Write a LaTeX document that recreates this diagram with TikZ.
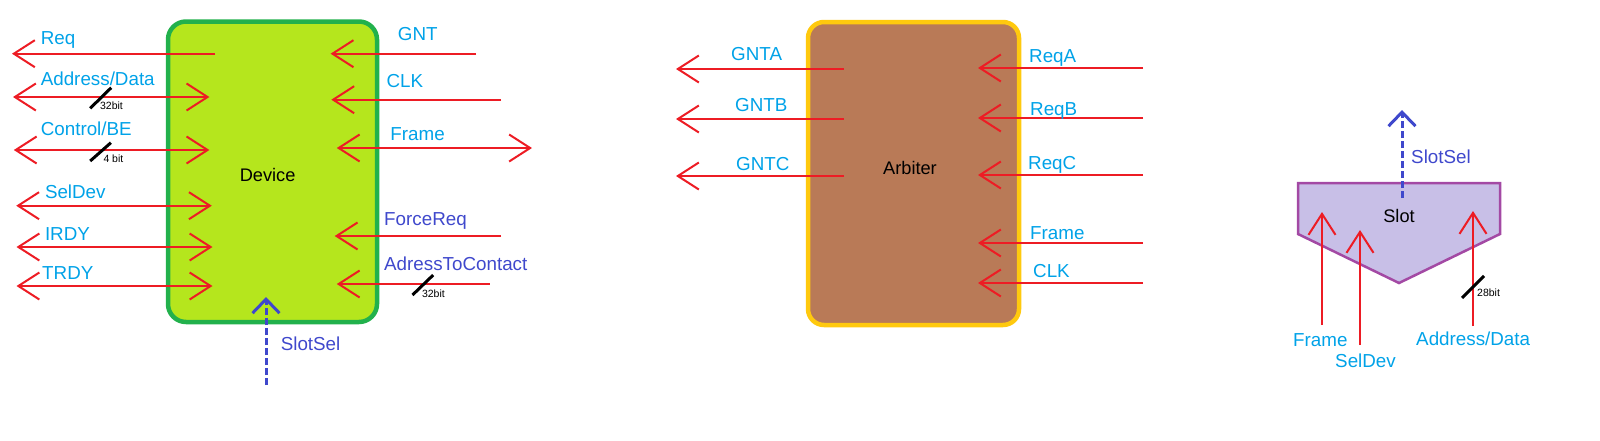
\documentclass[tikz,border=0pt]{standalone}
\usepackage{fontspec}
\setmainfont{Liberation Sans}
\usetikzlibrary{arrows.meta}
\definecolor{sigred}{HTML}{ED1C24}
\definecolor{lblue}{HTML}{00A2E8}
\definecolor{indig}{HTML}{3F48CC}
\definecolor{devfill}{HTML}{B5E61D}
\definecolor{devdraw}{HTML}{22B14C}
\definecolor{arbfill}{HTML}{B97A57}
\definecolor{arbdraw}{HTML}{FFC90E}
\definecolor{slotfill}{HTML}{C8BFE7}
\definecolor{slotdraw}{HTML}{A349A4}
\newcommand\labfont{\fontsize{18.8}{20}\selectfont}
\newcommand\boxfont{\fontsize{18.2}{20}\selectfont}
\newcommand\tinyfont{\fontsize{10.5}{12}\selectfont}
\tikzset{
  barb/.tip={Straight Barb[length=21pt,width=27pt]},
  dbarb/.tip={Straight Barb[length=14pt,width=27pt]},
  sig/.style={draw=sigred, line width=2pt, -barb},
  bsig/.style={draw=sigred, line width=2pt, barb-barb},
  dsig/.style={draw=indig, line width=3pt, dash pattern=on 7pt off 3pt, -dbarb},
  lbl/.style={text=lblue, font=\labfont, inner sep=0pt, anchor=base west},
  ilbl/.style={lbl, text=indig},
  boxtxt/.style={text=black, font=\boxfont, inner sep=0pt},
  bus/.style={draw=black, line width=3pt},
  bustxt/.style={text=black, font=\tinyfont, inner sep=0pt, anchor=west},
  devbox/.style={draw=devdraw, fill=devfill, line width=4.5pt, rounded corners=18pt, inner sep=0pt},
  arbbox/.style={draw=arbdraw, fill=arbfill, line width=4.5pt, rounded corners=16pt, inner sep=0pt},
  slotshape/.style={draw=slotdraw, fill=slotfill, line width=2.5pt, line join=miter}
}
\begin{document}
\begin{tikzpicture}[x=1pt,y=-1pt]
\useasboundingbox (0,0) rectangle (1600,440);
% ---------------- Device ----------------
\node[devbox, minimum width=209pt, minimum height=300.5pt] (dev) at (272.5,171.75) {};
\node[boxtxt] (devtxt) at (267.6,175) {Device};
% left side coordinates
\coordinate (reqS) at (215,53.7);   \coordinate (reqT) at (12,53.7);
\coordinate (adL) at (13,97);       \coordinate (adR) at (209.4,97);
\coordinate (cbL) at (13.8,150);    \coordinate (cbR) at (209.4,150);
\coordinate (sdL) at (16.2,205.7);  \coordinate (sdR) at (211.8,205.7);
\coordinate (irL) at (16.5,247);    \coordinate (irR) at (212.5,247);
\coordinate (trL) at (16.5,286);    \coordinate (trR) at (212.5,286);
% right side coordinates
\coordinate (gntS) at (476,53.7);   \coordinate (gntT) at (330.6,53.7);
\coordinate (clkS) at (501,99.7);   \coordinate (clkT) at (331.3,99.7);
\coordinate (frL) at (336.8,148);   \coordinate (frR) at (532,148);
\coordinate (frqS) at (501,236);    \coordinate (frqT) at (334.7,236);
\coordinate (atcS) at (489.7,284);  \coordinate (atcT) at (336.8,284);
\coordinate (ssS) at (266,385);     \coordinate (ssT) at (266,297);
\draw[sig] (reqS) -- (reqT);
\draw[bsig] (adL) -- (adR);
\draw[bsig] (cbL) -- (cbR);
\draw[bsig] (sdL) -- (sdR);
\draw[bsig] (irL) -- (irR);
\draw[bsig] (trL) -- (trR);
\draw[sig] (gntS) -- (gntT);
\draw[sig] (clkS) -- (clkT);
\draw[bsig] (frL) -- (frR);
\draw[sig] (frqS) -- (frqT);
\draw[sig] (atcS) -- (atcT);
\draw[dsig] (ssS) -- (ssT);
% bus slashes
\coordinate (b1a) at (90.2,108.3); \coordinate (b1b) at (111.2,87.7);
\coordinate (b2a) at (90.2,161);   \coordinate (b2b) at (110.9,142.7);
\coordinate (b3a) at (412.5,295);  \coordinate (b3b) at (433.2,275);
\draw[bus] (b1a) -- (b1b);
\draw[bus] (b2a) -- (b2b);
\draw[bus] (b3a) -- (b3b);
\node[bustxt] (b1t) at (99.9,106) {32bit};
\node[bustxt] (b2t) at (103.3,159) {4 bit};
\node[bustxt] (b3t) at (421.8,293.3) {32bit};
% labels
\node[lbl] (lreq) at (40.6,44.3) {Req};
\node[lbl] (lad) at (40.6,85.7) {Address/Data};
\node[lbl] (lcb) at (40.6,135) {Control/BE};
\node[lbl] (lsd) at (44.8,198.3) {SelDev};
\node[lbl] (lir) at (44.8,240) {IRDY};
\node[lbl] (ltr) at (42,279) {TRDY};
\node[lbl] (lgnt) at (397.7,40) {GNT};
\node[lbl] (lclk) at (386.4,87.7) {CLK};
\node[lbl] (lfr) at (390.2,140) {Frame};
\node[ilbl] (lfrq) at (384,225) {ForceReq};
\node[ilbl] (latc) at (384,270.7) {AdressToContact};
\node[ilbl] (lss) at (280.6,350.7) {SlotSel};
% ---------------- Arbiter ----------------
\node[arbbox, minimum width=211pt, minimum height=303pt] (arb) at (913.5,173.5) {};
\node[boxtxt] (arbtxt) at (910,168) {Arbiter};
\coordinate (gaS) at (844,69);   \coordinate (gaT) at (676,69);
\coordinate (gbS) at (844,119);  \coordinate (gbT) at (676,119);
\coordinate (gcS) at (844,176);  \coordinate (gcT) at (676,176);
\coordinate (raS) at (1143,68);  \coordinate (raT) at (978,68);
\coordinate (rbS) at (1143,118); \coordinate (rbT) at (978,118);
\coordinate (rcS) at (1143,175); \coordinate (rcT) at (978,175);
\coordinate (afS) at (1143,243); \coordinate (afT) at (978,243);
\coordinate (acS) at (1143,283); \coordinate (acT) at (978,283);
\draw[sig] (gaS) -- (gaT);
\draw[sig] (gbS) -- (gbT);
\draw[sig] (gcS) -- (gcT);
\draw[sig] (raS) -- (raT);
\draw[sig] (rbS) -- (rbT);
\draw[sig] (rcS) -- (rcT);
\draw[sig] (afS) -- (afT);
\draw[sig] (acS) -- (acT);
\node[lbl] (lga) at (731,60) {GNTA};
\node[lbl] (lgb) at (735,111) {GNTB};
\node[lbl] (lgc) at (736,170) {GNTC};
\node[lbl] (lra) at (1029,62) {ReqA};
\node[lbl] (lrb) at (1030,115) {ReqB};
\node[lbl] (lrc) at (1028,169) {ReqC};
\node[lbl] (laf) at (1030,239) {Frame};
\node[lbl] (lac) at (1033,277) {CLK};
% ---------------- Slot ----------------
\draw[slotshape] (1298,183) -- (1500,183) -- (1500,234) -- (1399,283) -- (1298,234) -- cycle;
\node[boxtxt] (slottxt) at (1399,216) {Slot};
\coordinate (sfS) at (1322,325);  \coordinate (sfT) at (1322,212);
\coordinate (sdS) at (1360,345);  \coordinate (sdT) at (1360,230);
\coordinate (saS) at (1473,326);  \coordinate (saT) at (1473,211);
\coordinate (sssS) at (1402,198); \coordinate (sssT) at (1402,110);
\draw[sig] (sfS) -- (sfT);
\draw[sig] (sdS) -- (sdT);
\draw[sig] (saS) -- (saT);
\draw[dsig] (sssS) -- (sssT);
\coordinate (b4a) at (1462,298); \coordinate (b4b) at (1484,276);
\draw[bus] (b4a) -- (b4b);
\node[bustxt] (b4t) at (1477,293) {28bit};
\node[ilbl] (lsss) at (1411,163) {SlotSel};
\node[lbl] (lsf) at (1293,346) {Frame};
\node[lbl] (lsd2) at (1335,367) {SelDev};
\node[lbl] (lsa) at (1416,345) {Address/Data};
\end{tikzpicture}
\end{document}
